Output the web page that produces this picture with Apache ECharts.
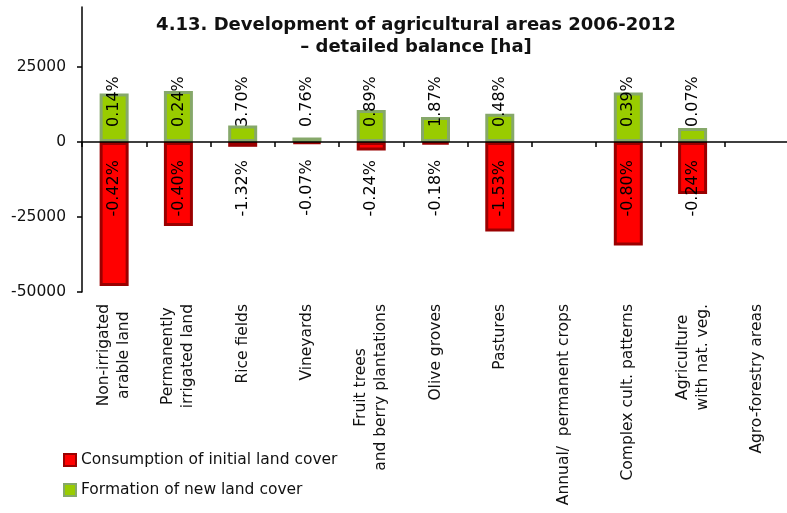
<!DOCTYPE html>
<html>
<head>
<meta charset="utf-8">
<script src="https://cdn.jsdelivr.net/npm/echarts@6/dist/echarts.min.js"></script>
<style>
html,body{margin:0;padding:0;background:#fff;}
#chart{width:787px;height:513px;}
</style>
</head>
<body>
<div id="chart"></div>
<script>
const categories = [
  "Non-irrigated\narable land",
  "Permanently\nirrigated land",
  "Rice fields",
  "Vineyards",
  "Fruit trees\nand berry plantations",
  "Olive groves",
  "Pastures",
  "Annual/  permanent crops",
  "Complex cult. patterns",
  "Agriculture\nwith nat. veg.",
  "Agro-forestry areas"
];
const consumption = [-48000, -28000, -1600, -500, -2800, -800, -29800, null, -34500, -17300, null];
const formation = [16200, 17000, 5500, 1500, 10700, 8300, 9400, null, 16500, 4700, null];
const consumptionPct = ["-0.42%", "-0.40%", "-1.32%", "-0.07%", "-0.24%", "-0.18%", "-1.53%", null, "-0.80%", "-0.24%", null];
const formationPct = ["0.14%", "0.24%", "3.70%", "0.76%", "0.89%", "1.87%", "0.48%", null, "0.39%", "0.07%", null];
const yTicks = [-50000, -25000, 0, 25000];
const seriesNames = ["Consumption of initial land cover", "Formation of new land cover"];

const FONT = "DejaVu Sans";
const chart = echarts.init(document.getElementById('chart'), null, {renderer: 'canvas'});
chart.setOption({
  animation: false,
  backgroundColor: '#ffffff',
  title: {
    text: "4.13. Development of agricultural areas 2006-2012\n\u2013 detailed balance [ha]",
    left: 416,
    top: 14,
    textAlign: 'center',
    padding: 0,
    textStyle: {fontFamily: FONT, fontSize: 18, fontWeight: 'bold', color: '#111', lineHeight: 22}
  },
  legend: {
    orient: 'vertical',
    left: 63,
    top: 452,
    itemWidth: 12,
    itemHeight: 12,
    itemGap: 14,
    icon: 'rect',
    padding: 0,
    textStyle: {fontFamily: FONT, fontSize: 15.5, color: '#111'},
    data: [
      {name: seriesNames[0], itemStyle: {color: '#ff0000', borderColor: '#9a0000', borderWidth: 2}},
      {name: seriesNames[1], itemStyle: {color: '#99cc00', borderColor: '#86a86a', borderWidth: 2}}
    ]
  },
  grid: {left: 82, right: -2, top: 7, bottom: 221, containLabel: false, outerBoundsMode: 'none'},
  xAxis: {
    type: 'category',
    data: categories,
    z: 5,
    axisLine: {onZero: true, lineStyle: {color: '#000', width: 1.5}},
    axisTick: {show: true, interval: 0, length: 5, lineStyle: {color: '#000', width: 1.5}},
    axisLabel: {
      interval: 0,
      rotate: 90,
      margin: 12,
      hideOverlap: false,
      fontFamily: FONT,
      fontSize: 15.5,
      color: '#111',
      lineHeight: 20,
      formatter: function (v) {
        return v.split('\n').map(function (s) { return '{c|' + s + '}'; }).join('\n');
      },
      rich: {c: {align: 'center', fontFamily: FONT, fontSize: 15.5, color: '#111', lineHeight: 20}}
    },
    splitLine: {show: false}
  },
  yAxis: {
    type: 'value',
    min: -50000,
    max: 45000,
    interval: 25000,
    axisLine: {show: true, lineStyle: {color: '#000', width: 1.5}},
    axisTick: {show: true, length: 5, customValues: yTicks, lineStyle: {color: '#000', width: 1.5}},
    axisLabel: {
      customValues: yTicks, margin: 16, fontFamily: FONT, fontSize: 15.5, color: '#111',
      formatter: function (v) { return String(v); }
    },
    splitLine: {show: false}
  },
  series: [
    {
      name: seriesNames[0],
      type: 'bar',
      data: consumption,
      barWidth: 29,
      barGap: '-100%',
      itemStyle: {color: '#ff0000', borderColor: '#9a0000', borderWidth: 3},
      label: {
        show: true,
        position: 'insideTop',
        distance: 18,
        rotate: 90,
        align: 'right',
        verticalAlign: 'middle',
        fontFamily: FONT,
        fontSize: 16,
        color: '#000',
        formatter: function (p) { return consumptionPct[p.dataIndex] || ''; }
      }
    },
    {
      name: seriesNames[1],
      type: 'bar',
      data: formation,
      barWidth: 29,
      barGap: '-100%',
      itemStyle: {color: '#99cc00', borderColor: '#86a86a', borderWidth: 3},
      label: {
        show: true,
        position: 'insideBottom',
        distance: 15,
        rotate: 90,
        align: 'left',
        verticalAlign: 'middle',
        fontFamily: FONT,
        fontSize: 16,
        color: '#000',
        formatter: function (p) { return formationPct[p.dataIndex] || ''; }
      }
    }
  ]
});
</script>
</body>
</html>
